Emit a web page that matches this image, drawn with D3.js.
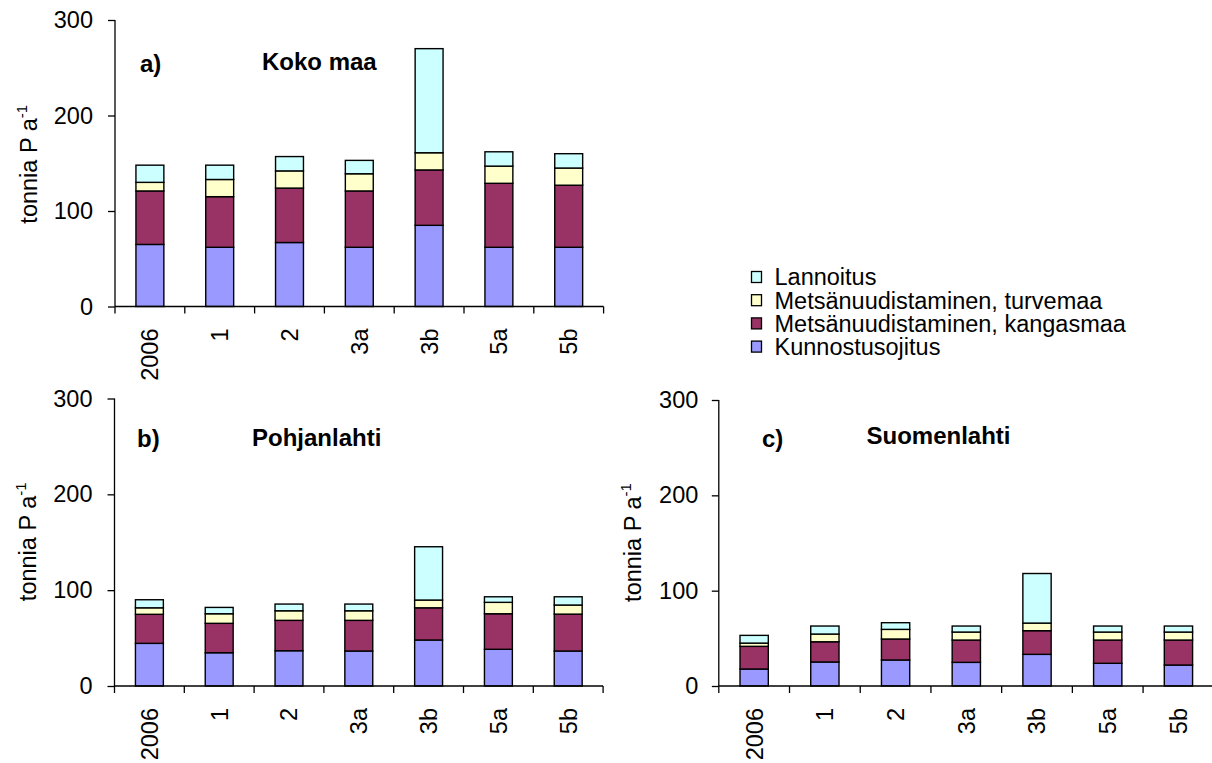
<!DOCTYPE html>
<html>
<head>
<meta charset="utf-8">
<script src="https://cdn.jsdelivr.net/npm/d3@7"></script>
<style>
  html, body { margin: 0; padding: 0; background: #fff; overflow: hidden; }
  svg { display: block; }
  text { font-family: "Liberation Sans", Arial, sans-serif; fill: #000; }
</style>
</head>
<body>
<svg id="chart" width="1212" height="763"></svg>
<script>
// ---- data ----
const categories = ["2006", "1", "2", "3a", "3b", "5a", "5b"];
const seriesNames = ["Kunnostusojitus", "Metsänuudistaminen, kangasmaa", "Metsänuudistaminen, turvemaa", "Lannoitus"];
const seriesColors = ["#9999FF", "#993366", "#FFFFCC", "#CCFFFF"];
const yTicks = [0, 100, 200, 300];

// a) Koko maa
const kokoKunnostus = [65, 62, 67, 62, 85, 62, 62];
const kokoKangas    = [56, 53, 57, 59, 58, 67, 65];
const kokoTurve     = [9, 18, 18, 18, 18, 18, 18];
const kokoLannoitus = [18, 15, 15, 14, 109, 15, 15];

// b) Pohjanlahti
const pohjKunnostus = [44.5, 34.7, 36.8, 36.5, 48, 38.3, 36.5];
const pohjKangas    = [30.3, 30.7, 31.7, 32, 33.6, 37.1, 38.5];
const pohjTurve     = [6.8, 10, 10, 10, 8.1, 11.9, 9.5];
const pohjLannoitus = [8.4, 6.6, 7, 7, 55.6, 5.8, 8.6];

// c) Suomenlahti
const suomKunnostus = [17.8, 25.2, 27.3, 24.8, 33.2, 23.8, 22];
const suomKangas    = [23.8, 21.2, 22, 23.4, 24.8, 24.4, 26.2];
const suomTurve     = [3.4, 8.1, 10.1, 8.4, 8, 8.4, 8.4];
const suomLannoitus = [8.1, 8.4, 7, 6.3, 52, 6.3, 6.3];

// ---- layout ----
const panels = [
  { letter: "a)", title: "Koko maa", series: [kokoKunnostus, kokoKangas, kokoTurve, kokoLannoitus],
    x0: 115, width: 488.6, top: 20, bottom: 306.5,
    letterX: 140, letterY: 71.5, titleX: 262, titleY: 69.5,
    yLabelX: 37, tickGap: 22 },
  { letter: "b)", title: "Pohjanlahti", series: [pohjKunnostus, pohjKangas, pohjTurve, pohjLannoitus],
    x0: 114.5, width: 488.6, top: 398.5, bottom: 686,
    letterX: 137, letterY: 446.5, titleX: 252, titleY: 446,
    yLabelX: 36, tickGap: 22 },
  { letter: "c)", title: "Suomenlahti", series: [suomKunnostus, suomKangas, suomTurve, suomLannoitus],
    x0: 718.8, width: 495, top: 400, bottom: 686,
    letterX: 762, letterY: 446.5, titleX: 866.5, titleY: 443.5,
    yLabelX: 641, tickGap: 20.5 }
];

const svg = d3.select("#chart");
const FS = 23.5;

panels.forEach(p => {
  const g = svg.append("g");
  const x = d3.scaleBand().domain(categories).range([p.x0, p.x0 + p.width])
    .paddingInner(0.6).paddingOuter(0.3);
  const y = d3.scaleLinear().domain([0, 300]).range([p.bottom, p.top]);
  const step = x.step();

  // stacked data
  const rows = categories.map((c, i) => {
    const r = { cat: c };
    seriesNames.forEach((s, k) => r[s] = p.series[k][i]);
    return r;
  });
  const stacked = d3.stack().keys(seriesNames)(rows);

  stacked.forEach((layer, k) => {
    g.append("g").selectAll("rect").data(layer).join("rect")
      .attr("x", d => x(d.data.cat))
      .attr("width", x.bandwidth())
      .attr("y", d => y(d[1]))
      .attr("height", d => y(d[0]) - y(d[1]))
      .attr("fill", seriesColors[k])
      .attr("stroke", "#000")
      .attr("stroke-width", 1.4);
  });

  // y axis
  const yAxis = g.append("g").attr("transform", `translate(${p.x0},0)`)
    .call(d3.axisLeft(y).tickValues(yTicks).tickSize(7).tickPadding(p.tickGap - 7).tickFormat(d3.format("d")));
  yAxis.select(".domain").attr("stroke", "#000").attr("stroke-width", 1.3).attr("d", `M0,${p.top}V${p.bottom}`);
  yAxis.selectAll(".tick line").attr("stroke", "#000").attr("stroke-width", 1.3);
  yAxis.selectAll(".tick text").attr("font-size", FS).attr("font-family", "Liberation Sans, Arial, sans-serif").attr("fill", "#000");

  // x axis line
  g.append("line").attr("x1", p.x0).attr("x2", p.x0 + p.width)
    .attr("y1", p.bottom).attr("y2", p.bottom).attr("stroke", "#000").attr("stroke-width", 1.3);
  // x ticks at category boundaries
  const boundaries = categories.map(c => x(c) - (step - x.bandwidth()) / 2);
  boundaries.push(p.x0 + p.width);
  g.append("g").selectAll("line").data(boundaries).join("line")
    .attr("x1", d => d).attr("x2", d => d)
    .attr("y1", p.bottom).attr("y2", p.bottom + 7)
    .attr("stroke", "#000").attr("stroke-width", 1.3);
  // x labels
  g.append("g").selectAll("text").data(categories).join("text")
    .attr("transform", c => `translate(${x(c) + x.bandwidth() / 2},${p.bottom + 22}) rotate(-90)`)
    .attr("text-anchor", "end")
    .attr("dy", "0.36em")
    .attr("font-size", FS)
    .text(c => c);

  // y label
  const yl = g.append("text")
    .attr("transform", `translate(${p.yLabelX},${(p.top + p.bottom) / 2 + (p === panels[0] ? 1 : -0.5)}) rotate(-90)`)
    .attr("text-anchor", "middle")
    .attr("font-size", FS);
  yl.append("tspan").text("tonnia P a");
  yl.append("tspan").attr("font-size", 15).attr("dy", -10).text("-1");

  // panel letter and title
  g.append("text").attr("x", p.letterX).attr("y", p.letterY)
    .attr("font-size", 24).attr("font-weight", "bold").text(p.letter);
  g.append("text").attr("x", p.titleX).attr("y", p.titleY)
    .attr("font-size", 24).attr("font-weight", "bold").text(p.title);
});

// legend (top series first)
const legendItems = seriesNames.map((s, k) => ({ name: s, color: seriesColors[k] })).reverse();
const lg = svg.append("g").attr("transform", "translate(751.5,277)");
const lgRow = lg.selectAll("g").data(legendItems).join("g")
  .attr("transform", (d, i) => `translate(0,${i * 23.2})`);
lgRow.append("rect").attr("x", 0).attr("y", -5.5).attr("width", 10).attr("height", 11)
  .attr("fill", d => d.color).attr("stroke", "#000").attr("stroke-width", 1.3);
lgRow.append("text").attr("x", 23).attr("y", 0).attr("dy", "0.36em")
  .attr("font-size", FS).text(d => d.name);
</script>
</body>
</html>
